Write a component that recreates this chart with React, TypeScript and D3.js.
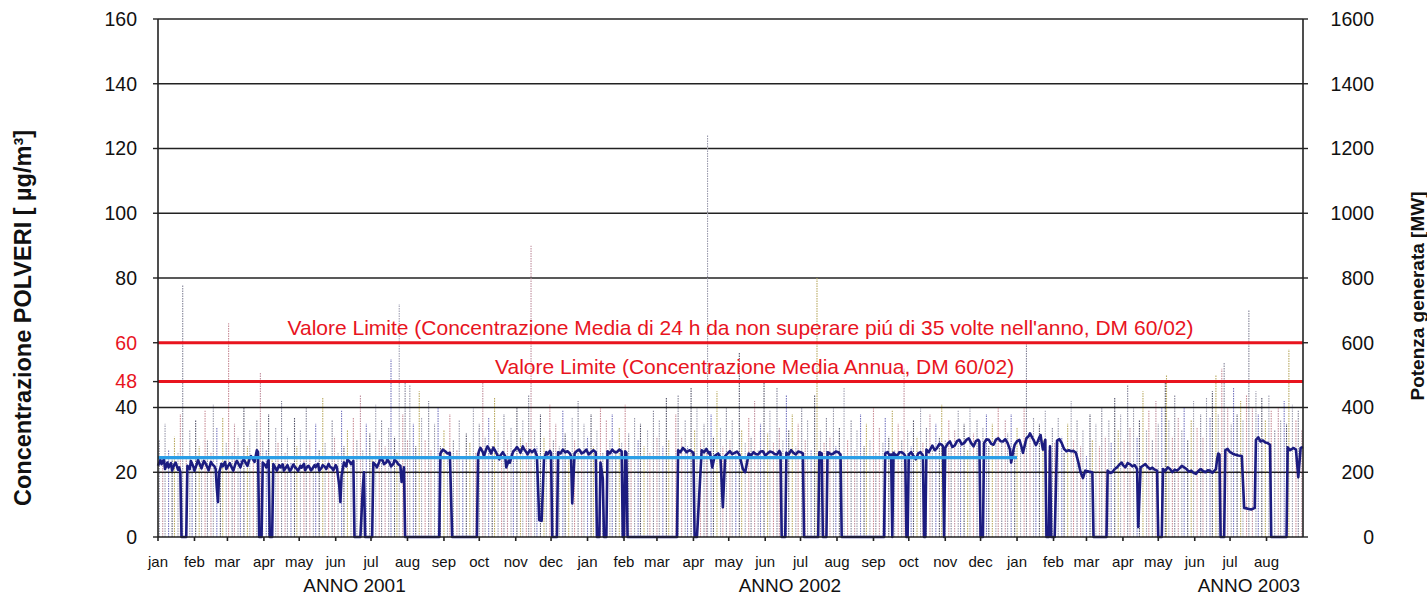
import React from "react";
import * as d3 from "d3";

// left axis: concentrazione polveri (µg/m³), right axis: potenza (MW)
const leftTicks = [0, 20, 40, 48, 60, 80, 100, 120, 140, 160];
const redTicks = [48, 60];
const rightTicks = [0, 200, 400, 600, 800, 1000, 1200, 1400, 1600];
const monthNames = ["jan", "feb", "mar", "apr", "may", "jun", "jul", "aug", "sep", "oct", "nov", "dec"];
const yearLabels = [
  { label: "ANNO 2001", date: "2001-06-17" },
  { label: "ANNO 2002", date: "2002-06-22" },
  { label: "ANNO 2003", date: "2003-07-17" },
];
const limitLabels = [
  { value: 60, text: "Valore Limite (Concentrazione Media di 24 h da non superare piú di 35 volte nell'anno, DM 60/02)", date: "2002-05-11" },
  { value: 48, text: "Valore Limite (Concentrazione Media Annua, DM 60/02)", date: "2002-05-23" },
];
const annualMean = 24.5;
const annualMeanEnd = "2003-01-01";

// daily concentrations: [day since 2001-01-01, µg/m³]
const spikes = [
  [1,30],[4,22],[6,35],[9,27],[12,24],[14,31],[17,26],[19,38],[21,78],[24,25],[27,33],[29,21],[32,36],[35,28],[37,24],[40,39],[42,30],[45,26],[47,41],[50,34],
  [53,23],[55,37],[58,29],[60,66],[63,26],[65,35],[68,31],[70,24],[73,40],[76,28],[78,33],[81,25],[84,36],[87,51],[89,30],[92,27],[94,38],[97,24],[100,34],[102,29],
  [105,42],[108,26],[110,31],[113,23],[116,37],[118,28],[121,33],[124,25],[126,40],[129,30],[132,22],[134,35],[137,27],[140,43],[142,29],[145,24],[148,36],[150,31],
  [153,26],[156,39],[158,28],[161,33],[164,23],[166,37],[169,30],[172,44],[174,27],[177,35],[180,32],[182,25],[185,41],[188,30],[190,36],[193,28],[196,34],[198,55],
  [201,31],[203,26],[205,72],[208,38],[210,48],[212,30],[214,47],[217,35],[219,28],[222,45],[224,37],[227,30],[230,42],[232,27],[235,35],[238,40],[240,28],[243,33],
  [246,25],[248,38],[251,30],[254,27],[256,36],[259,24],[262,32],[265,29],[268,40],[270,26],[273,35],[276,48],[278,31],[281,37],[284,28],[286,43],[289,33],[292,25],
  [294,38],[297,30],[300,34],[302,27],[305,40],[308,31],[310,36],[313,29],[315,44],[317,90],[320,33],[322,28],[325,38],[328,31],[330,26],[333,41],[336,30],[338,35],
  [341,28],[344,39],[346,32],[349,24],[352,37],[354,30],[357,42],[360,27],[362,35],[365,31],[368,38],[370,28],[373,33],[376,40],[378,26],[381,36],[384,30],[386,38],
  [389,27],[392,34],[394,29],[397,41],[400,32],[402,25],[405,37],[408,30],[410,35],[413,28],[416,33],[418,26],[421,39],[424,31],[426,36],[429,28],[432,43],[434,30],
  [437,25],[440,38],[442,44],[445,31],[448,36],[450,28],[453,46],[456,33],[458,40],[461,30],[464,35],[466,27],[467,124],[470,38],[472,31],[475,45],[478,34],[480,28],
  [483,40],[486,30],[488,36],[491,26],[494,57],[496,33],[499,29],[502,37],[504,31],[507,42],[510,27],[512,35],[515,48],[518,32],[520,39],[523,29],[526,46],[528,34],
  [531,30],[534,44],[536,33],[539,38],[542,28],[544,35],[547,40],[550,30],[552,36],[555,27],[558,44],[560,80],[563,33],[566,29],[568,37],[571,31],[574,40],[576,28],
  [579,34],[581,25],[583,46],[586,30],[589,36],[592,27],[594,33],[597,38],[600,28],[602,35],[605,30],[608,40],[610,26],[613,34],[616,29],[618,37],[621,31],[624,39],
  [626,27],[629,35],[632,30],[634,52],[637,33],[640,28],[642,36],[645,31],[648,40],[650,29],[653,34],[656,38],[658,27],[661,35],[664,31],[666,41],[669,30],[672,36],
  [674,28],[677,33],[680,39],[682,30],[685,35],[688,27],[690,40],[693,32],[696,36],[698,29],[701,34],[704,38],[706,28],[709,35],[712,31],[714,40],[717,29],[720,36],
  [722,32],[725,38],[728,27],[730,34],[733,30],[736,40],[738,60],[741,31],[744,37],[746,28],[749,35],[752,30],[754,39],[757,27],[760,34],[762,29],[765,37],[768,31],
  [770,26],[773,35],[776,42],[778,30],[781,36],[784,28],[786,33],[789,25],[792,38],[794,30],[797,35],[800,28],[802,40],[805,31],[808,36],[810,29],[813,43],[816,33],
  [818,38],[821,30],[824,47],[826,34],[829,40],[832,31],[834,36],[837,45],[840,33],[842,39],[845,30],[848,42],[850,35],[853,40],[856,48],[857,50],[859,36],[862,31],
  [864,44],[867,37],[870,33],[872,40],[875,30],[878,36],[880,42],[883,34],[886,38],[888,31],[891,43],[894,37],[896,45],[899,50],[901,38],[904,52],[906,54],[909,40],
  [912,35],[914,46],[917,38],[920,42],[922,36],[925,44],[927,70],[930,40],[933,45],[935,38],[938,43],[941,36],[944,44],[946,39],[949,33],[952,40],[954,36],[957,42],
  [959,35],[961,58],[964,41],[967,36],[969,39],[972,33],
];

// generated power: [day since 2001-01-01, MW]
const power = [
  [0,220],[2,238],[3,225],[5,240],[6,210],[8,230],[9,215],[11,228],[12,205],[14,225],[15,230],[17,208],[18,215],[19,200],[20,0],[24,0],[25,220],[27,210],[28,235],
  [30,218],[31,205],[33,225],[34,238],[36,220],[37,212],[39,235],[40,230],[42,215],[43,206],[45,232],[46,225],[48,218],[49,210],[50,150],[51,108],[52,200],[54,226],
  [55,218],[57,232],[58,210],[60,222],[61,228],[63,212],[64,205],[66,228],[67,235],[69,222],[70,215],[72,236],[73,240],[75,226],[76,220],[78,244],[79,250],[81,238],
  [82,232],[84,268],[85,262],[86,0],[88,0],[89,230],[91,222],[92,215],[94,238],[95,0],[97,0],[98,225],[100,212],[101,205],[103,222],[104,215],[106,224],[107,205],
  [109,216],[110,222],[112,204],[113,208],[115,224],[116,218],[118,210],[119,204],[121,220],[122,214],[124,226],[125,206],[127,218],[128,220],[130,206],[131,210],
  [133,222],[134,216],[136,226],[137,205],[139,214],[140,222],[142,216],[143,210],[145,226],[146,218],[148,212],[149,206],[151,222],[152,215],[154,160],[155,108],
  [156,190],[158,230],[160,218],[161,240],[163,232],[164,225],[166,235],[167,0],[172,0],[174,150],[175,200],[176,0],[182,0],[183,230],[185,222],[186,215],[188,232],
  [189,245],[191,236],[192,225],[194,230],[195,240],[197,228],[198,218],[200,226],[201,238],[203,232],[204,225],[206,220],[207,170],[209,215],[210,0],[239,0],
  [240,258],[242,270],[244,265],[246,258],[248,260],[250,0],[271,0],[272,255],[273,268],[274,275],[276,262],[277,250],[279,272],[280,280],[282,268],[283,258],
  [285,276],[286,270],[288,256],[290,240],[291,252],[293,262],[295,250],[296,215],[298,236],[299,230],[301,256],[302,265],[304,272],[305,278],[307,268],[308,260],
  [310,280],[311,272],[313,262],[314,255],[316,268],[318,262],[320,270],[322,250],[324,52],[326,50],[328,240],[330,262],[331,255],[333,266],[334,260],[335,0],
  [339,0],[340,262],[342,258],[344,270],[346,262],[348,265],[350,258],[351,250],[352,104],[354,258],[356,266],[358,270],[360,258],[362,262],[364,270],[366,255],
  [368,262],[370,268],[372,262],[373,0],[375,0],[376,230],[378,180],[379,0],[381,0],[382,265],[384,258],[386,270],[388,262],[390,262],[392,270],[394,265],[395,0],
  [396,0],[397,265],[398,260],[399,0],[441,0],[442,268],[444,262],[446,275],[448,268],[449,262],[452,268],[455,260],[456,0],[458,0],[462,268],[464,262],[466,272],
  [468,258],[469,262],[471,215],[473,250],[476,258],[478,245],[480,92],[482,250],[484,258],[486,265],[488,256],[490,260],[492,264],[494,255],[497,210],[499,200],
  [502,258],[504,252],[506,262],[508,256],[510,255],[512,264],[514,265],[516,252],[518,258],[520,264],[522,262],[524,256],[526,255],[528,266],[529,260],[530,0],
  [533,0],[534,260],[536,255],[538,268],[540,260],[542,255],[544,264],[546,262],[548,258],[549,0],[561,0],[562,262],[564,258],[565,0],[568,0],[569,262],[572,255],
  [574,258],[576,264],[578,262],[580,255],[581,0],[617,0],[618,258],[620,262],[622,250],[623,255],[624,0],[625,260],[627,252],[629,255],[630,262],[632,262],
  [634,256],[635,250],[636,0],[637,0],[638,255],[640,262],[642,250],[644,240],[646,258],[648,262],[650,252],[651,0],[652,0],[653,270],[655,262],[658,282],[660,268],
  [662,275],[664,288],[666,285],[667,280],[668,0],[669,275],[671,288],[673,295],[675,278],[677,282],[679,296],[681,300],[683,286],[685,290],[687,300],[689,305],
  [691,290],[693,280],[695,296],[697,300],[698,295],[699,0],[701,0],[702,290],[704,302],[706,300],[708,288],[710,285],[712,300],[714,305],[716,296],[718,295],
  [720,302],[722,290],[724,270],[725,230],[727,270],[728,285],[730,296],[732,300],[734,276],[735,260],[737,290],[738,305],[740,312],[741,320],[743,306],[744,300],
  [746,284],[747,290],[749,308],[750,315],[751,290],[752,270],[754,300],[755,0],[757,0],[758,280],[759,0],[762,0],[764,298],[766,302],[768,290],[770,272],[772,265],
  [774,268],[776,265],[778,266],[780,260],[782,232],[784,200],[786,182],[788,205],[791,202],[794,200],[795,0],[806,0],[807,205],[809,198],[811,200],[813,210],
  [815,215],[817,224],[819,230],[820,222],[822,215],[824,228],[826,225],[828,218],[830,222],[832,210],[833,31],[835,215],[837,220],[839,225],[841,216],[843,210],
  [845,214],[847,208],[849,205],[850,0],[853,0],[854,210],[856,204],[858,215],[860,210],[862,200],[864,208],[866,205],[868,212],[870,220],[872,215],[874,210],
  [876,202],[878,205],[880,198],[882,195],[884,204],[886,210],[888,204],[890,200],[892,206],[894,205],[896,198],[899,210],[900,240],[901,258],[902,255],[903,0],
  [906,0],[907,268],[909,272],[911,262],[913,258],[915,255],[918,252],[921,250],[923,90],[929,85],[932,90],[933,300],[935,308],[937,295],[939,298],[941,292],
  [943,290],[945,285],[946,0],[959,0],[960,277],[962,268],[965,275],[967,270],[969,185],[971,275],[973,278],
];

// colours of the measuring stations (cycled over the daily values)
const spikeColors = ["#85859a", "#c0909e", "#9a9aac", "#7676bf", "#55556a", "#b9aa62", "#a2a2b4", "#c98e98"];

const W = 1427;
const H = 598;
const start = new Date(2001, 0, 1);
const end = new Date(2003, 8, 1);
const dayToDate = (d: number) => d3.timeDay.offset(start, d);

export default function App() {
  const x = d3.scaleTime().domain([start, end]).range([158, 1303]);
  const y = d3.scaleLinear().domain([0, 160]).range([537, 19]);
  const yR = d3.scaleLinear().domain([0, 1600]).range([537, 19]);

  const months = d3.timeMonth.range(start, end);
  const powerLine = d3
    .line<number[]>()
    .x((d) => x(dayToDate(d[0])))
    .y((d) => yR(d[1]));

  const font = "'Liberation Sans', Arial, sans-serif";
  const left = x.range()[0];
  const right = x.range()[1];

  return (
    <svg width={W} height={H} style={{ position: "absolute", left: 0, top: 0, background: "#fff" }} fontFamily={font}>
      {/* grid */}
      {leftTicks
        .filter((t) => t > 0 && !redTicks.includes(t))
        .map((t) => (
          <line key={"g" + t} x1={left} x2={right} y1={y(t)} y2={y(t)} stroke="#222" strokeWidth={1.4} />
        ))}

      {/* daily concentrations */}
      <g strokeWidth={1.1} strokeDasharray="1.5,1">
        {spikes.map((s, i) => (
          <line
            key={"s" + i}
            x1={x(dayToDate(s[0]))}
            x2={x(dayToDate(s[0]))}
            y1={y(0)}
            y2={y(s[1])}
            stroke={spikeColors[i % spikeColors.length]}
          />
        ))}
      </g>

      {/* limit values */}
      {redTicks.map((t) => (
        <line key={"r" + t} x1={left} x2={right} y1={y(t)} y2={y(t)} stroke="#e8141e" strokeWidth={3} />
      ))}
      {limitLabels.map((l) => (
        <text key={l.text} x={x(new Date(l.date))} y={y(l.value) - 8} textAnchor="middle" fontSize={21} fill="#e8141e">
          {l.text}
        </text>
      ))}

      {/* power */}
      <path d={powerLine(power) || ""} fill="none" stroke="#1c1c80" strokeWidth={2.6} strokeLinejoin="round" />

      {/* annual mean */}
      <line
        x1={left}
        x2={x(new Date(annualMeanEnd))}
        y1={y(annualMean)}
        y2={y(annualMean)}
        stroke="#2b9ee6"
        strokeWidth={3.2}
      />

      {/* axes frame */}
      <line x1={left} x2={left} y1={y(0)} y2={y(160)} stroke="#222" strokeWidth={1.6} />
      <line x1={right} x2={right} y1={y(0)} y2={y(160)} stroke="#222" strokeWidth={1.6} />
      <line x1={left} x2={right} y1={y(0)} y2={y(0)} stroke="#222" strokeWidth={1.6} />

      {/* left axis */}
      {leftTicks.map((t) => (
        <g key={"lt" + t}>
          <line x1={left - 5} x2={left} y1={y(t)} y2={y(t)} stroke="#222" strokeWidth={1.4} />
          <text
            x={137}
            y={y(t)}
            dy="0.35em"
            textAnchor="end"
            fontSize={19.5}
            fill={redTicks.includes(t) ? "#e8141e" : "#111"}
          >
            {t}
          </text>
        </g>
      ))}
      <text
        transform={`translate(31,${(y(0) + y(160)) / 2 + 40}) rotate(-90)`}
        textAnchor="middle"
        fontSize={23.5}
        fontWeight="bold"
        fill="#111"
      >
        Concentrazione POLVERI [ µg/m³]
      </text>

      {/* right axis */}
      {rightTicks.map((t) => (
        <g key={"rt" + t}>
          <line x1={right} x2={right + 5} y1={yR(t)} y2={yR(t)} stroke="#222" strokeWidth={1.4} />
          <text x={1374} y={yR(t)} dy="0.35em" textAnchor="end" fontSize={19.5} fill="#111">
            {t}
          </text>
        </g>
      ))}
      <text
        transform={`translate(1424,${(y(0) + y(160)) / 2 + 18}) rotate(-90)`}
        textAnchor="middle"
        fontSize={19}
        fontWeight="bold"
        fill="#111"
      >
        Potenza generata [MW]
      </text>

      {/* x axis */}
      {months.map((m) => (
        <g key={+m}>
          <line x1={x(m)} x2={x(m)} y1={y(0)} y2={y(0) + 4} stroke="#222" strokeWidth={1.6} />
          <text x={x(m)} y={567} textAnchor="middle" fontSize={15} fill="#111">
            {monthNames[m.getMonth()]}
          </text>
        </g>
      ))}
      {yearLabels.map((l) => (
        <text key={l.label} x={x(new Date(l.date))} y={592} textAnchor="middle" fontSize={19} fill="#111">
          {l.label}
        </text>
      ))}
    </svg>
  );
}
